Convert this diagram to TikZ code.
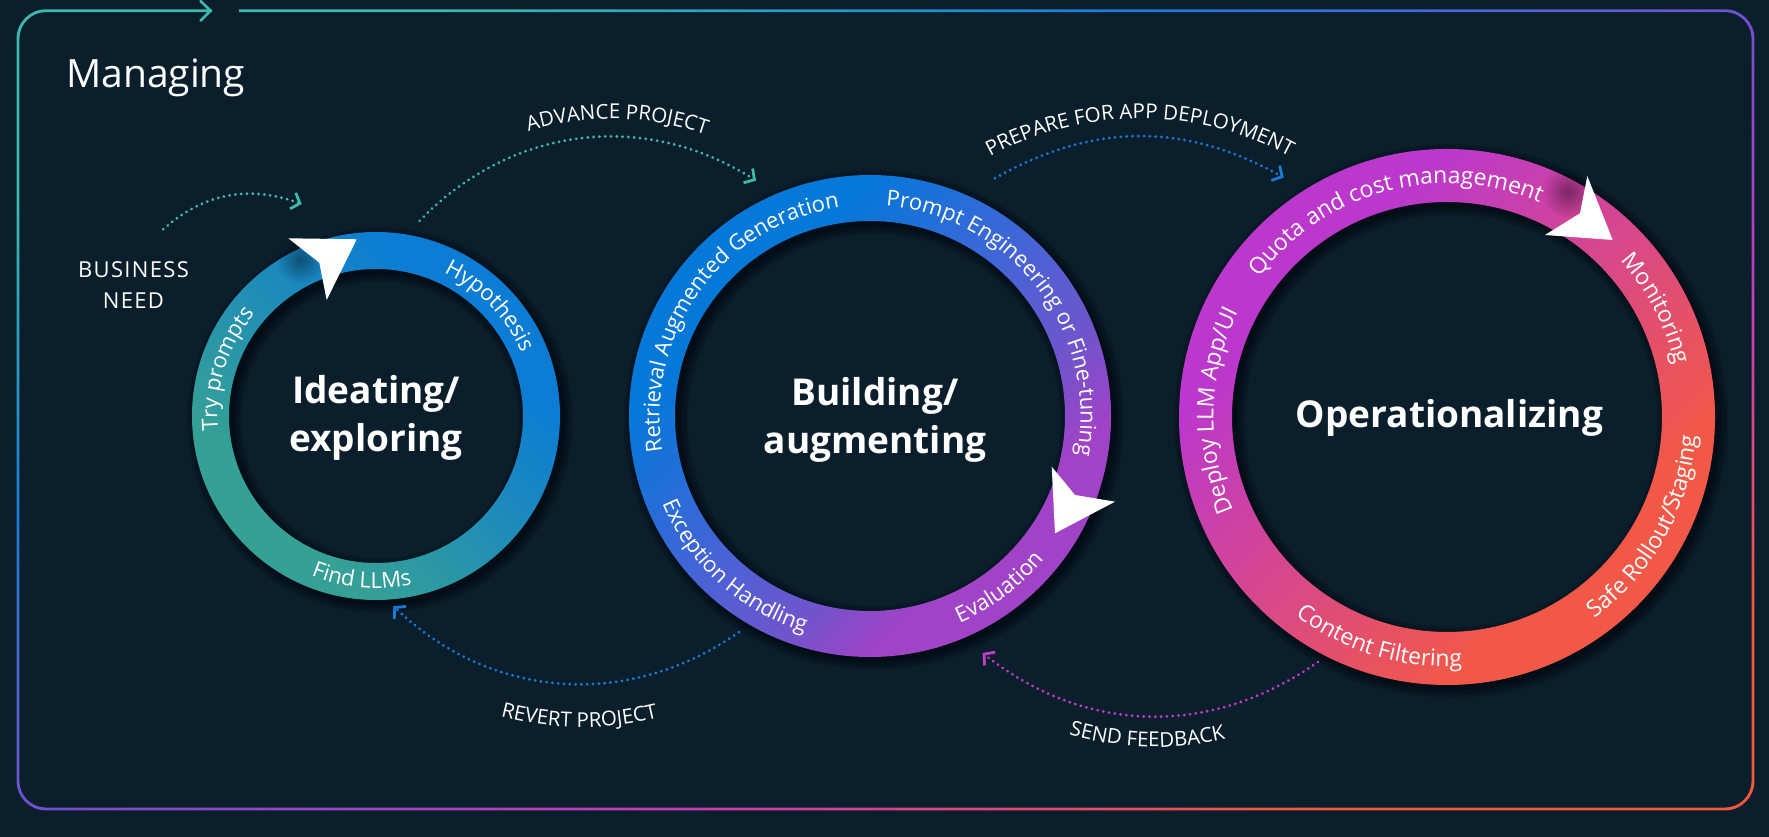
\documentclass[tikz,border=0pt]{standalone}
\usepackage{fontspec}
\setmainfont{Open Sans}
\newfontfamily\spacedcaps{Open Sans}[LetterSpace=6]
\usetikzlibrary{arrows.meta,decorations.text,fadings}

% palette
\definecolor{bgnavy}{HTML}{0A1E2C}
\definecolor{frTeal}{HTML}{3CB8AE}
\definecolor{frBlue}{HTML}{1A7ED8}
\definecolor{frViolet}{HTML}{7050D0}
\definecolor{frMagenta}{HTML}{C83CB8}
\definecolor{frOrange}{HTML}{F5583A}
\definecolor{lnTeal}{HTML}{3DBCA8}
\definecolor{lnBlue}{HTML}{1A7AD8}
\definecolor{lnMagenta}{HTML}{C23CC8}
\definecolor{oneA}{HTML}{35A096}
\definecolor{oneB}{HTML}{0C7CD4}
\definecolor{twoA}{HTML}{0578D8}
\definecolor{twoM}{HTML}{2A6CD8}
\definecolor{twoN}{HTML}{5260D4}
\definecolor{twoP}{HTML}{7054CC}
\definecolor{twoB}{HTML}{A043C6}
\definecolor{threeA}{HTML}{BC38CC}
\definecolor{threeB}{HTML}{F25848}

% gradients
\pgfdeclarehorizontalshading{framegrad}{100bp}{color(0bp)=(frTeal); color(25bp)=(frTeal); color(37.5bp)=(frBlue); color(50bp)=(frViolet); color(62.5bp)=(frMagenta); color(75bp)=(frOrange); color(100bp)=(frOrange)}
\pgfdeclarehorizontalshading{ringone}{100bp}{color(0bp)=(oneA); color(32.3bp)=(oneA); color(67.7bp)=(oneB); color(100bp)=(oneB)}
\pgfdeclarehorizontalshading{ringtwo}{100bp}{color(0bp)=(twoA); color(32.3bp)=(twoA); color(42bp)=(twoM); color(52bp)=(twoN); color(60bp)=(twoP); color(67.7bp)=(twoB); color(100bp)=(twoB)}
\pgfdeclarehorizontalshading{ringthree}{100bp}{color(0bp)=(threeA); color(32.3bp)=(threeA); color(67.7bp)=(threeB); color(100bp)=(threeB)}

\tikzfading[name=softblob, inner color=transparent!0, outer color=transparent!100]

% fonts
\newcommand\ringfontA{\fontsize{22}{22}\selectfont}
\newcommand\ringfontC{\fontsize{23}{23}\selectfont}
\newcommand\capfont{\fontsize{20.5}{20.5}\selectfont}

% text set along a clockwise / counter-clockwise arc, centred on a mid angle
\newcommand\cwtext[5]{\path[decorate, decoration={text along path, text align=center, text color=white, text={|#4|#5}}]
  (#1) ++({#3+70}:#2) arc[start angle={#3+70}, end angle={#3-70}, radius=#2];}
\newcommand\ccwtext[5]{\path[decorate, decoration={text along path, text align=center, text color=white, text={|#4|#5}}]
  (#1) ++({#3-70}:#2) arc[start angle={#3-70}, end angle={#3+70}, radius=#2];}

% soft drop shadow of a ring: centre, outer radius, inner radius
\newcommand\ringshadow[3]{%
  \foreach \k in {0,...,7}{%
    \fill[black, opacity=0.07, even odd rule]
      ([xshift=4pt, yshift=-4pt]#1) circle[radius={#2+\k*1.3}]
      ([xshift=4pt, yshift=-4pt]#1) circle[radius={#3-\k*1.3}];}}

\begin{document}
\begin{tikzpicture}[x=1pt, y=1pt,
  dotarrow/.style={line width=3.1pt, dash pattern=on 0.01pt off 5.8pt, line cap=round,
    -{Straight Barb[length=7.5pt, width=17pt, line width=2.8pt]}},
  phase/.style={text=white, inner sep=0pt, align=center, font=\bfseries\fontsize{37}{48}\selectfont},
  caption/.style={text=white, inner sep=0pt}]

% canvas
\fill[bgnavy] (0,0) rectangle (1769,837);
\useasboundingbox (0,0) rectangle (1769,837);

% outer frame with diagonal gradient
\shade[shading=framegrad, shading angle=-65.3, even odd rule, rounded corners=29.4]
  (16.6,26.6) rectangle (1754.4,827.7) [rounded corners=26.6] (19.4,29.4) rectangle (1751.6,824.9);
\fill[bgnavy] (212,820) rectangle (238.5,832);
\draw[frTeal, line width=2.6pt, line cap=round] (200.5,836) -- (210.5,826.3) -- (200.5,816.3);

\node[caption, anchor=base west, font=\fontsize{39}{39}\selectfont] (managing) at (66,749.7) {Managing};

% ring centres
\coordinate (r1) at (376,421);
\coordinate (r2) at (870,421);
\coordinate (r3) at (1447,420);

% rings
\ringshadow{r1}{184}{147}
\ringshadow{r2}{241}{195}
\ringshadow{r3}{268}{215}
\shade[shading=ringone, shading angle=45, even odd rule] (r1) circle[radius=184] (r1) circle[radius=147];
\shade[shading=ringtwo, shading angle=-45, even odd rule] (r2) circle[radius=241] (r2) circle[radius=195];
\shade[shading=ringthree, shading angle=-45, even odd rule] (r3) circle[radius=268] (r3) circle[radius=215];

% soft shade under the arrowheads
\fill[black, opacity=0.4, path fading=softblob] (300,577) circle[radius=24];
\fill[black, opacity=0.4, path fading=softblob] (1568,645) circle[radius=26];

% arrowheads showing the direction of each cycle
\fill[white] (288.3,598.7) -- (319.3,574.3) -- (326.7,537) -- (356.7,597.7) -- cycle;
\fill[white] (1051.7,370.3) -- (1075,342) -- (1115,335.3) -- (1055,303.7) -- cycle;
\fill[white] (1587.3,661) -- (1580,623.7) -- (1545,602) -- (1612.7,597) -- cycle;

% phase titles
\node[phase] (ideate) at (376,419) {Ideating/\\exploring};
\node[phase] (build) at (875,417.5) {Building/\\augmenting};
\node[phase, anchor=base] (oper) at (1449.5,409) {Operationalizing};

% ring one labels
\cwtext{r1}{158.5}{44}{\ringfontA}{Hypothesis}
\cwtext{r1}{158.5}{162.5}{\ringfontA}{Try prompts}
\ccwtext{r1}{172.5}{-95}{\ringfontA}{Find LLMs}

% ring two labels
\cwtext{r2}{210.5}{144}{\ringfontA}{Retrieval Augmented Generation}
\cwtext{r2}{210.5}{37.5}{\ringfontA}{Prompt Engineering or Fine-tuning}
\ccwtext{r2}{225.5}{-53}{\ringfontA}{Evaluation}
\ccwtext{r2}{225.5}{-132}{\ringfontA}{Exception Handling}

% ring three labels
\cwtext{r3}{233.5}{105}{\ringfontC}{Quota and cost management}
\cwtext{r3}{233.5}{27.4}{\ringfontC}{Monitoring}
\ccwtext{r3}{249.5}{-29}{\ringfontC}{Safe Rollout/Staging}
\ccwtext{r3}{249.5}{-107}{\ringfontC}{Content Filtering}
\cwtext{r3}{233.5}{178.4}{\ringfontC}{Deploy LLM App/UI}

% business need entry
\node[caption, align=center, font=\spacedcaps\fontsize{22}{30.6}\selectfont] (need) at (133.5,551.8) {BUSINESS\\NEED};
\coordinate (needS) at (163.3,607.7);
\coordinate (needE) at (301.7,633);
\draw[dotarrow, lnTeal] (needS) to[out=42, in=160] (needE);

% transitions between phases
\coordinate (advC) at (612.4,430);
\coordinate (advS) at (419.6,616.2);
\coordinate (advE) at (756,656.3);
\draw[dotarrow, lnTeal] (advS) to[out=46, in=147.6] (advE);
\cwtext{advC}{288}{89}{\capfont}{ADVANCE PROJECT}

\coordinate (prepC) at (1140,403.3);
\coordinate (prepS) at (994.9,658.7);
\coordinate (prepE) at (1283.7,659.4);
\draw[dotarrow, lnBlue] (prepS) to[out=29.6, in=150.7] (prepE);
\cwtext{prepC}{315}{90}{\capfont}{PREPARE FOR APP DEPLOYMENT}

\coordinate (revC) at (582,428);
\coordinate (revS) at (738.9,204.8);
\coordinate (revE) at (393.4,230.8);
\draw[dotarrow, lnBlue] (revS) to[out=-144.9, in=-43.7] (revE);
\ccwtext{revC}{318}{-90.5}{\capfont}{REVERT PROJECT}

\coordinate (fbC) at (1156.3,404.1);
\coordinate (fbS) at (1317.9,175);
\coordinate (fbE) at (982.5,184);
\draw[dotarrow, lnMagenta] (fbS) to[out=-144.8, in=-38.3] (fbE);
\ccwtext{fbC}{314}{-91.7}{\capfont}{SEND FEEDBACK}

\end{tikzpicture}
\end{document}
